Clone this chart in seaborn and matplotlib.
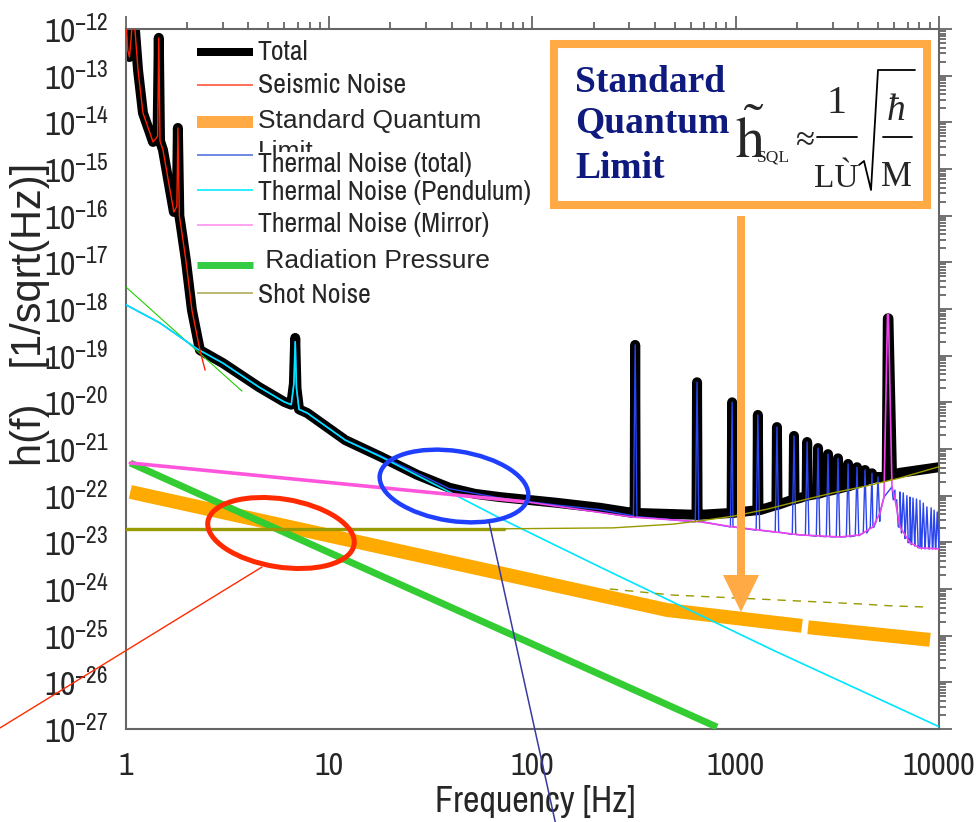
import numpy as np
import matplotlib
matplotlib.use("Agg")
import matplotlib.pyplot as plt
import matplotlib.ticker as mticker
import matplotlib.transforms as mtransforms
from matplotlib import font_manager
from matplotlib.patches import Ellipse, Rectangle, FancyArrow
from matplotlib.lines import Line2D
import seaborn as sns

# values: frequency in Hz, strain noise as log10(h)
seismic_f = [1.0, 1.02, 1.04, 1.06, 1.08, 1.107, 1.146, 1.212, 1.312, 1.358, 1.43, 1.45, 1.47,
             1.52, 1.646, 1.72, 1.78, 1.80, 1.83, 1.86, 1.97, 2.11, 2.31, 2.45]
seismic_h = [-11.8, -12.45, -12.6, -12.2, -11.6, -12.02, -12.88, -13.8, -14.23, -14.42, -14.3, -12.19, -14.4,
             -14.59, -15.45, -15.92, -15.8, -14.12, -16.0, -16.2, -16.95, -18.02, -18.88, -19.31]

pendulum_f = [1.0, 1.47, 2.23, 3.0, 4.5, 6.0, 6.5, 6.7, 6.8, 6.9, 7.1, 7.8, 12, 18, 39, 69, 215, 1525, 10000]
pendulum_h = [-17.91, -18.3, -18.85, -19.16, -19.67, -19.99, -20.05, -19.6, -18.7, -19.7, -20.15, -20.23,
              -20.81, -21.17, -21.92, -22.48, -23.53, -25.31, -26.95]

mirror_f = [1.05, 94, 312, 667, 969, 1316, 2070, 3260, 4085, 4733, 5125, 5360, 5580, 5640, 5870, 6080,
            6430, 7200, 8060, 10000]
mirror_h = [-21.30, -22.135, -22.46, -22.56, -22.67, -22.74, -22.84, -22.885, -22.84, -22.67, -22.37, -22.03,
            -18.12, -18.12, -21.81, -22.09, -22.67, -23.01, -23.12, -23.14]

shot_f = [1.0, 72, 249, 491, 667, 969, 1426, 2070, 3008, 4425, 6430, 10000]
shot_h = [-22.71, -22.71, -22.69, -22.61, -22.54, -22.44, -22.29, -22.11, -21.94, -21.79, -21.62, -21.38]
shot_dash_f = [240, 491, 1217, 4085, 5740, 9030]
shot_dash_h = [-24.0, -24.13, -24.21, -24.32, -24.36, -24.39]

sql_f1, sql_h1 = [1.05, 69, 459, 2118], [-21.92, -23.66, -24.45, -24.79]
sql_f2, sql_h2 = [2268, 9030], [-24.82, -25.09]

rp_f, rp_h = [1.05, 809], [-21.30, -26.96]
rp_lf_f, rp_lf_h = [1.0, 3.72], [-17.53, -19.76]

total_f = [2.31, 3.0, 4.5, 6.0, 6.5, 6.7, 6.8, 6.9, 7.1, 7.8, 12, 18, 27, 39, 52, 69, 130, 215, 312, 667,
           969, 1316, 2070, 3008, 4425, 5300, 5530, 5600, 5640, 5870, 6430, 10000]
total_h = [-18.88, -19.16, -19.67, -19.99, -20.05, -19.6, -18.62, -19.7, -20.15, -20.23, -20.81, -21.17,
           -21.55, -21.83, -21.96, -22.03, -22.15, -22.26, -22.37, -22.41, -22.37, -22.31, -22.05, -21.88,
           -21.66, -21.6, -21.58, -18.2, -18.2, -21.55, -21.51, -21.39]

thermal_f = [1.0, 1.47, 2.23, 3.0, 4.5, 6.0, 6.5, 6.7, 6.8, 6.9, 7.1, 7.8, 12, 18, 39, 69, 130, 215, 312,
             667, 969, 1316, 2070, 3260, 4085, 4733, 5125, 5360, 5870, 6080, 6430, 7200, 8060, 10000]
thermal_h = [-17.91, -18.3, -18.85, -19.16, -19.67, -19.99, -20.05, -19.6, -18.7, -19.7, -20.15, -20.23,
             -20.81, -21.15, -21.85, -22.05, -22.2, -22.3, -22.43, -22.55, -22.67, -22.74, -22.84, -22.885,
             -22.84, -22.67, -22.37, -22.03, -21.81, -22.09, -22.67, -23.01, -23.12, -23.14]

# violin modes: frequency, peak, level of total and of thermal noise under each peak
violin_f = [320, 645, 960, 1285, 1595, 1935, 2245, 2540, 2845, 3185, 3570, 3950, 4325, 4680, 5010]
violin_top = [-18.77, -19.57, -20.0, -20.27, -20.53, -20.72, -20.85, -20.98, -21.11, -21.2, -21.32,
              -21.39, -21.45, -21.52, -21.6]
violin_total_base = [-22.37, -22.41, -22.37, -22.31, -22.2, -22.08, -22.0, -21.96, -21.9, -21.85, -21.8,
                     -21.74, -21.68, -21.63, -21.6]
violin_thermal_base = [-22.45, -22.56, -22.67, -22.74, -22.78, -22.83, -22.85, -22.87, -22.88, -22.885,
                       -22.88, -22.86, -22.8, -22.68, -22.55]
high_modes_f = [6070, 6430, 6670, 6950, 7200, 7450, 7750, 8060, 8370, 8720, 9150, 9460, 9800]
high_modes_top = [-21.88, -21.92, -21.94, -22.0, -22.03, -22.05, -22.07, -22.1, -22.16, -22.24, -22.26,
                  -22.31, -22.35]
high_modes_base = [-22.09, -22.67, -22.8, -22.92, -23.01, -23.05, -23.08, -23.12, -23.14, -23.14, -23.14,
                   -23.14, -23.14]

W, H = 979, 822
NAVY = "#0e1a7e"
ORANGE_LIGHT = "#ffaa44"
SERIF = "Liberation Serif"


def with_spikes(base_f, base_h, mode_f, mode_top, mode_base, half):
    f = list(base_f)
    h = list(base_h)
    for m, top, b in zip(mode_f, mode_top, mode_base):
        f += [m / half, m, m * half]
        h += [b, top, b]
    order = np.argsort(f, kind="stable")
    return np.array(f)[order], np.array(h)[order]


sns.set_theme(style="white")
installed = {f.name for f in font_manager.fontManager.ttflist}
NARROW = next((n for n in ("Liberation Sans Narrow", "Archivo Narrow") if n in installed), None)
if NARROW is None:
    NARROW = "DejaVu Sans"
    plt.rcParams["font.stretch"] = "condensed"
plt.rcParams["font.family"] = [NARROW, "DejaVu Sans"]
plt.rcParams["axes.unicode_minus"] = False

fig = plt.figure(figsize=(W / 100, H / 100), dpi=100)
ax = fig.add_axes([126 / W, 1 - 729 / H, 813 / W, 700 / H])
ax.set_xscale("log")
ax.set_yscale("log")
pix = mtransforms.Affine2D().scale(1, -1).translate(0, H)


def line(f, logh, **kw):
    sns.lineplot(x=np.asarray(f, float), y=10.0 ** np.asarray(logh, float), ax=ax,
                 sort=False, estimator=None, **kw)


# total: seismic part, then the smooth sum with the violin peaks
tf, th = with_spikes(total_f, total_h, violin_f, violin_top, violin_total_base, 1.006)
tot_f = list(seismic_f[:-2]) + list(tf)
tot_h = list(seismic_h[:-2]) + list(th)
line(tot_f, tot_h, color="black", linewidth=7.2, zorder=2)

line(sql_f1, sql_h1, color="#ffaa00", linewidth=10, solid_capstyle="butt", zorder=3)
line(sql_f2, sql_h2, color="#ffaa00", linewidth=10, solid_capstyle="butt", zorder=3)
line(rp_f, rp_h, color="#33cc33", linewidth=5, solid_capstyle="butt", zorder=3.1)
line(rp_lf_f, rp_lf_h, color="#22cc00", linewidth=0.8, zorder=3.1)

thf, thh = with_spikes(thermal_f, thermal_h, violin_f + high_modes_f, violin_top + high_modes_top,
                       violin_thermal_base + high_modes_base, 1.02)
line(thf, thh, color="#2a44ee", linewidth=1.0, zorder=4)
line(pendulum_f, pendulum_h, color="#00e5ff", linewidth=1.2, zorder=4.1)
line(mirror_f, mirror_h, color="#ee44ee", linewidth=1.2, zorder=4.2)
line(mirror_f[:2], mirror_h[:2], color="#ff55dd", linewidth=2.6, zorder=4.2)
line(shot_f, shot_h, color="#999900", linewidth=1.0, zorder=4.3)
line(shot_f[:2], shot_h[:2], color="#999900", linewidth=2.4, zorder=4.3)
line(shot_dash_f, shot_dash_h, color="#999900", linewidth=1.0, linestyle=(0, (6, 5)), zorder=4.3)
line(seismic_f, seismic_h, color="#ff2200", linewidth=1.0, zorder=4.4)

ax.set_xlim(1, 1e4)
ax.set_ylim(1e-27, 1e-12)

ax.xaxis.set_major_locator(mticker.LogLocator(base=10, numticks=50))
ax.xaxis.set_minor_locator(mticker.LogLocator(base=10, subs=np.arange(2, 10), numticks=50))
ax.xaxis.set_major_formatter(mticker.FuncFormatter(lambda v, p: f"{v:g}"))
ax.xaxis.set_minor_formatter(mticker.NullFormatter())
ax.yaxis.set_major_locator(mticker.LogLocator(base=10, numticks=50))
ax.yaxis.set_minor_locator(mticker.LogLocator(base=10, subs=np.arange(2, 10), numticks=50))
ax.yaxis.set_major_formatter(mticker.LogFormatterSciNotation())
ax.yaxis.set_minor_formatter(mticker.NullFormatter())

for s in ax.spines.values():
    s.set_color("#666666")
    s.set_linewidth(1.5)
ax.tick_params(which="both", direction="out", top=True, right=True, color="#666666", width=1.3)
ax.tick_params(which="major", length=9.5)
ax.tick_params(which="minor", length=5)
ax.tick_params(axis="x", labelsize=23, pad=7)
ax.tick_params(axis="y", labelsize=24, pad=3)

ax.set_xlabel("Frequency [Hz]", fontsize=26)
ax.xaxis.label.set_va("center")
ax.xaxis.set_label_coords((535 - 126) / 813, (729 - 801) / 700)
ax.set_ylabel("h(f)   [1/sqrt(Hz)]", fontsize=30, fontfamily=["Liberation Sans", "DejaVu Sans"])
ax.yaxis.label.set_va("center")
ax.yaxis.set_label_coords((30 - 126) / 813, (729 - 314) / 700)

# legend, drawn by hand to keep the overlapping second line of the SQL label
rows = [
    ("Total", "black", 8, NARROW, 20, 52, 60),
    ("Seismic Noise", "#ff4422", 1.5, NARROW, 20, 85, 93),
    ("Standard Quantum", ORANGE_LIGHT, 12, "Liberation Sans", 19, 122, 128),
    ("Thermal Noise (total)", "#4466dd", 1.5, NARROW, 20, 155, 172),
    ("Thermal Noise (Pendulum)", "#33eeff", 2, NARROW, 20, 190, 200),
    ("Thermal Noise (Mirror)", "#ff88ee", 1.5, NARROW, 20, 225, 232),
    (" Radiation Pressure", "#33cc44", 7, "Liberation Sans", 19, 265, 268),
    ("Shot Noise", "#bbbb77", 2, NARROW, 20, 293, 303),
]
fig.text(258, 159, "Limit", transform=pix, fontsize=19, fontfamily="Liberation Sans",
         va="baseline", zorder=5)
for label, color, lw, fam, size, yh, yb in rows:
    fig.add_artist(Line2D([197, 253], [yh, yh], transform=pix, color=color, linewidth=lw * 0.72,
                          solid_capstyle="butt"))
    t = fig.text(258, yb, label, transform=pix, fontsize=size, fontfamily=fam, va="baseline", zorder=6)
    if label.startswith("Thermal Noise (total)"):
        t.set_bbox(dict(facecolor="white", edgecolor="none", pad=0))

# SQL box with the formula
fig.add_artist(Rectangle((554, 44), 373, 161, transform=pix, facecolor="white",
                         edgecolor=ORANGE_LIGHT, linewidth=5.8, zorder=7))
for txt, yb in [("Standard", 92), ("Quantum", 132), ("Limit", 178)]:
    fig.text(575, yb, txt, transform=pix, fontsize=27, fontfamily=SERIF,
             fontweight="bold", color=NAVY, va="baseline", zorder=8)


def ftext(x, y, s, size, **kw):
    fig.text(x, y, s, transform=pix, fontsize=size, fontfamily=SERIF, ha="center", va="baseline",
             zorder=8, **kw)


fig.text(735, 158, r"$\tilde{\mathrm{h}}$", transform=pix, fontsize=42, math_fontfamily="stix",
         va="baseline", zorder=8)
fig.text(757, 161, "SQL", transform=pix, fontsize=12.5, fontfamily=SERIF, va="baseline", zorder=8)
ftext(805, 149, "≈", 25)
ftext(837, 113, "1", 29)
ftext(836, 187, "LÙ", 24)
ftext(896, 120, "ħ", 27, fontstyle="italic")
ftext(896, 186, "M", 25)
for x0, x1 in [(817, 857), (883, 912)]:
    fig.add_artist(Line2D([x0, x1], [137, 137], transform=pix, color="black", linewidth=1.3, zorder=8))
fig.add_artist(Line2D([859, 864, 871, 878, 915], [165, 161, 190, 70, 70], transform=pix, color="black",
                      linewidth=1.3, zorder=8))

fig.add_artist(FancyArrow(741, 216, 0, 396, width=8, head_width=36, head_length=37,
                          length_includes_head=True, transform=pix, color=ORANGE_LIGHT, linewidth=0,
                          zorder=7))

# highlight ellipses and their pointer lines
fig.add_artist(Ellipse((281, 533), 148, 68, angle=9, transform=pix, fill=False,
                       edgecolor="#ff2a00", linewidth=3.6, zorder=7))
fig.add_artist(Ellipse((454, 486), 150, 70, angle=8.5, transform=pix, fill=False,
                       edgecolor="#1f3fff", linewidth=3.2, zorder=7))
fig.add_artist(Line2D([262, -5], [567, 731], transform=pix, color="#ff2a00", linewidth=1.0, zorder=7))
fig.add_artist(Line2D([489, 557], [522, 830], transform=pix, color="#3a3aa0", linewidth=1.1, zorder=7))

fig.savefig("out.png", dpi=100)
